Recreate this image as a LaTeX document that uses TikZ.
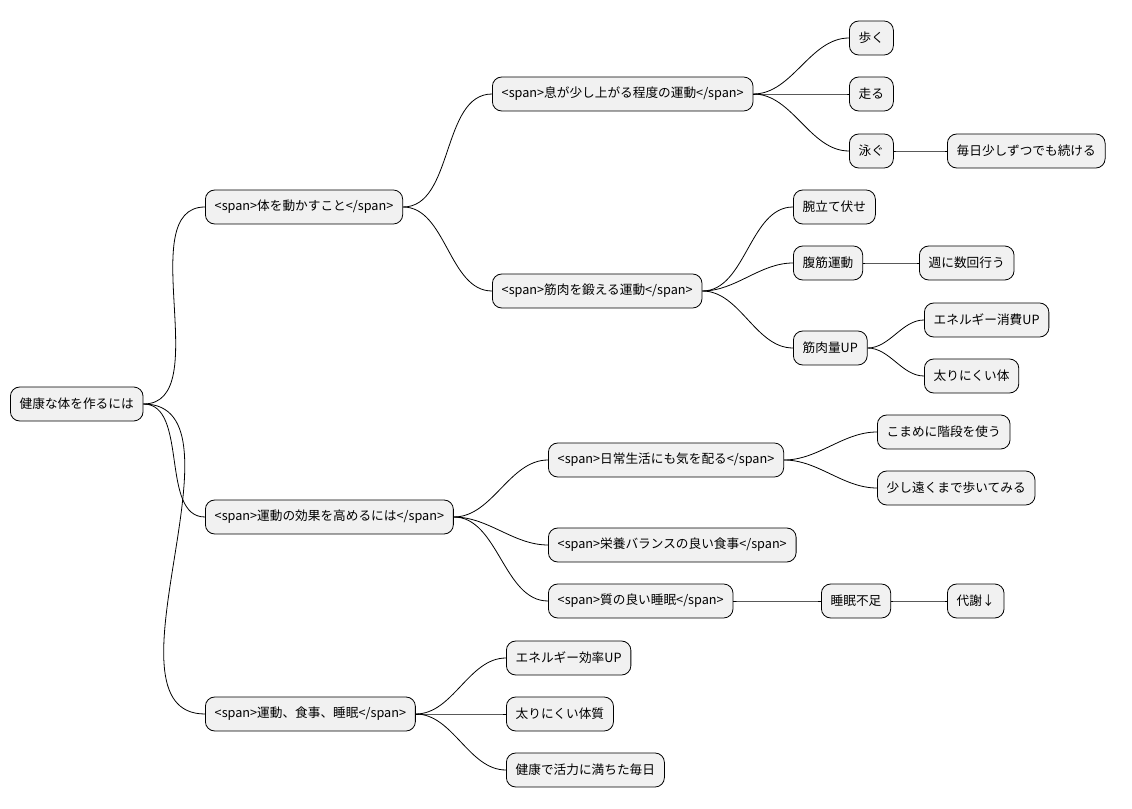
\documentclass[tikz,border=0pt]{standalone}
\usepackage{fontspec}
\setmainfont{Noto Sans CJK JP}
\usetikzlibrary{positioning}
\tikzset{
  mnode/.style={draw, rounded corners=7pt, fill={rgb,255:red,241;green,241;blue,241},
    anchor=west, minimum height=25.5pt, inner xsep=7pt, font=\fontsize{9.5pt}{11pt}\selectfont},
  mlink/.style={out=0, in=180, looseness=0.9}
}
\begin{document}
\begin{tikzpicture}[x=0.75pt, y=-0.75pt, line width=0.6pt]
\useasboundingbox (0,0) rectangle (1132,809);
\node[mnode] (root) at (10,404) {健康な体を作るには};
% level 1
\node[mnode] (body) at (205,207) {<span>体を動かすこと</span>};
\node[mnode] (effect) at (205,517) {<span>運動の効果を高めるには</span>};
\node[mnode] (life) at (205,714) {<span>運動、食事、睡眠</span>};
% level 2
\node[mnode] (breath) at (492,94) {<span>息が少し上がる程度の運動</span>};
\node[mnode] (muscle) at (492,291) {<span>筋肉を鍛える運動</span>};
\node[mnode] (daily) at (548,460) {<span>日常生活にも気を配る</span>};
\node[mnode] (food) at (548,545) {<span>栄養バランスの良い食事</span>};
\node[mnode] (sleep) at (548,601) {<span>質の良い睡眠</span>};
\node[mnode] (energy) at (506,658) {エネルギー効率UP};
\node[mnode] (slim) at (506,714) {太りにくい体質};
\node[mnode] (vital) at (506,770) {健康で活力に満ちた毎日};
% level 3
\node[mnode] (walk) at (849,38) {歩く};
\node[mnode] (run) at (849,94) {走る};
\node[mnode] (swim) at (849,151) {泳ぐ};
\node[mnode] (keep) at (947,151) {毎日少しずつでも続ける};
\node[mnode] (push) at (793,207) {腕立て伏せ};
\node[mnode] (abs) at (793,263) {腹筋運動};
\node[mnode] (week) at (919,263) {週に数回行う};
\node[mnode] (mass) at (793,348) {筋肉量UP};
\node[mnode] (burn) at (924,320) {エネルギー消費UP};
\node[mnode] (lean) at (924,376) {太りにくい体};
\node[mnode] (stairs) at (877,432) {こまめに階段を使う};
\node[mnode] (far) at (877,488) {少し遠くまで歩いてみる};
\node[mnode] (short) at (821,601) {睡眠不足};
\node[mnode] (meta) at (947,601) {代謝↓};
% links
\foreach \p/\c in {root/body, root/effect, root/life,
  body/breath, body/muscle, breath/walk, breath/run, breath/swim, swim/keep,
  muscle/push, muscle/abs, muscle/mass, abs/week, mass/burn, mass/lean,
  effect/daily, effect/food, effect/sleep, daily/stairs, daily/far,
  sleep/short, short/meta, life/energy, life/slim, life/vital}
  \draw (\p.east) to[mlink] (\c.west);
\end{tikzpicture}
\end{document}
